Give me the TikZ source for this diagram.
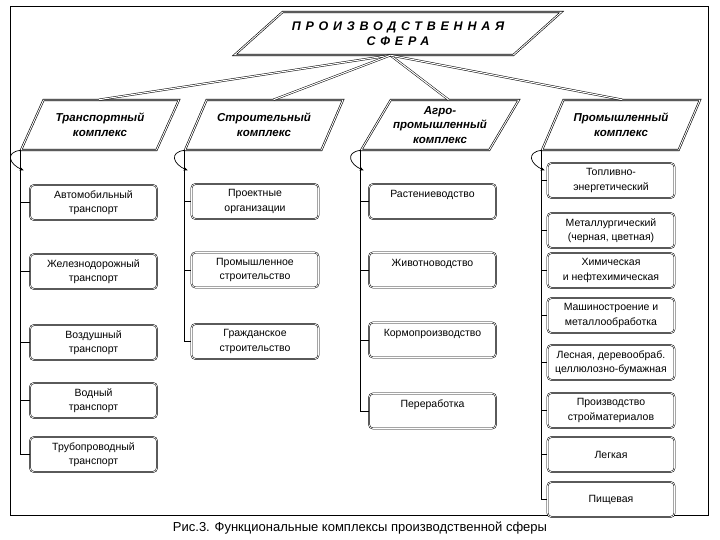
\documentclass[tikz,border=0pt]{standalone}
\usepackage{fontspec}
\setmainfont{Liberation Sans}
\usetikzlibrary{arrows.meta,calc,shapes.geometric}
\tikzset{
  pgram/.style={
    trapezium, draw, line width=0.6pt, double, double distance=0.9pt, fill=white,
    trapezium left angle=52.8, trapezium right angle=127.2, trapezium stretches=true,
    minimum width=158pt, minimum height=50pt, inner sep=0pt, align=center,
    font=\fontsize{11.5}{14.5}\selectfont\bfseries\itshape
  },
  headbox/.style={
    pgram, trapezium left angle=28.3, trapezium right angle=151.7,
    minimum width=328pt, minimum height=43pt,
    font=\fontsize{12.5}{15}\selectfont\bfseries\itshape\addfontfeature{LetterSpace=38}
  },
  sub/.style={
    draw, line width=0.5pt, double, double distance=0.7pt, rounded corners=4pt,
    fill=white, minimum width=127pt, minimum height=35pt, inner sep=1pt,
    align=center, font=\fontsize{10.5}{14.5}\selectfont
  },
  link/.style={draw, line width=0.7pt},
  fan/.style={draw, line width=0.5pt, double, double distance=1.1pt},
  hookarr/.style={-{Stealth[length=4pt,width=3.5pt]}, line width=0.7pt},
  frame/.style={draw, line width=0.6pt}
}
\begin{document}
\begin{tikzpicture}[x=1pt,y=-1pt]
  \useasboundingbox (0,0) rectangle (720,540);
  \draw[frame] (10,6) rectangle (708,515);
  % top level and complexes
  \node[headbox] (prod) at (398,33.5) {ПРОИЗВОДСТВЕННАЯ\\СФЕРА};
  \node[pgram] (trans) at (100,125) {Транспортный\\комплекс};
  \node[pgram] (stroi) at (264,125) {Строительный\\комплекс};
  \node[pgram] (agro) at (440,125) {Агро-\\промышленный\\комплекс};
  \node[pgram] (prom) at (621,125) {Промышленный\\комплекс};
  \coordinate (hub) at ($(prod.bottom left corner)!0.56!(prod.bottom right corner)$);
  \draw[fan] (hub) -- ($(trans.top left corner)!0.41!(trans.top right corner)$);
  \draw[fan] (hub) -- ($(stroi.top left corner)!0.49!(stroi.top right corner)$);
  \draw[fan] (hub) -- ($(agro.top left corner)!0.45!(agro.top right corner)$);
  \draw[fan] (hub) -- ($(prom.top left corner)!0.43!(prom.top right corner)$);
  % transport
  \node[sub] (t1) at (93.5,202.5) {Автомобильный\\транспорт};
  \node[sub] (t2) at (93.5,271.5) {Железнодорожный\\транспорт};
  \node[sub] (t3) at (93.5,342.5) {Воздушный\\транспорт};
  \node[sub] (t4) at (93.5,400.5) {Водный\\транспорт};
  \node[sub] (t5) at (93.5,454.5) {Трубопроводный\\транспорт};
  % construction
  \node[sub] (s1) at (255,201.5) {Проектные\\организации};
  \node[sub] (s2) at (255,270) {Промышленное\\строительство};
  \node[sub] (s3) at (255,341.5) {Гражданское\\строительство};
  % agro
  \node[sub] (a1) at (432.5,201.5) {Растениеводство\\\mbox{}};
  \node[sub] (a2) at (432.5,270) {Животноводство\\\mbox{}};
  \node[sub] (a3) at (432.5,340) {Кормопроизводство\\\mbox{}};
  \node[sub] (a4) at (432.5,411) {Переработка\\\mbox{}};
  % industry
  \node[sub] (p1) at (611,180.5) {Топливно-\\энергетический};
  \node[sub] (p2) at (611,230.5) {Металлургический\\(черная, цветная)};
  \node[sub] (p3) at (611,270.5) {Химическая\\и нефтехимическая};
  \node[sub] (p4) at (611,315.5) {Машиностроение и\\металлообработка};
  \node[sub] (p5) at (611,362.5) {Лесная, деревообраб.\\целлюлозно-бумажная};
  \node[sub] (p6) at (611,410.5) {Производство\\стройматериалов};
  \node[sub] (p7) at (611,454.5) {Легкая};
  \node[sub] (p8) at (611,499.5) {Пищевая};
  % spines
  \draw[link] (trans.bottom left corner) |- (t5.west);
  \foreach \b in {t1,t2,t3,t4}
    \draw[link] (\b.west -| trans.bottom left corner) -- (\b.west);
  \draw[link] (stroi.bottom left corner) |- (s3.west);
  \foreach \b in {s1,s2}
    \draw[link] (\b.west -| stroi.bottom left corner) -- (\b.west);
  \draw[link] (agro.bottom left corner) |- (a4.west);
  \foreach \b in {a1,a2,a3}
    \draw[link] (\b.west -| agro.bottom left corner) -- (\b.west);
  \draw[link] (prom.bottom left corner) |- (p8.west);
  \foreach \b in {p1,p2,p3,p4,p5,p6,p7}
    \draw[link] (\b.west -| prom.bottom left corner) -- (\b.west);
  % hooks
  \foreach \c in {trans,stroi,agro,prom}
    \draw[hookarr] (\c.bottom left corner) .. controls +(-16,2) and +(-14,-6) .. +(3,20);
  \node[font=\fontsize{13}{15}\selectfont] (cap) at (360,528)
    {Рис.3. Функциональные комплексы производственной сферы};
\end{tikzpicture}
\end{document}
